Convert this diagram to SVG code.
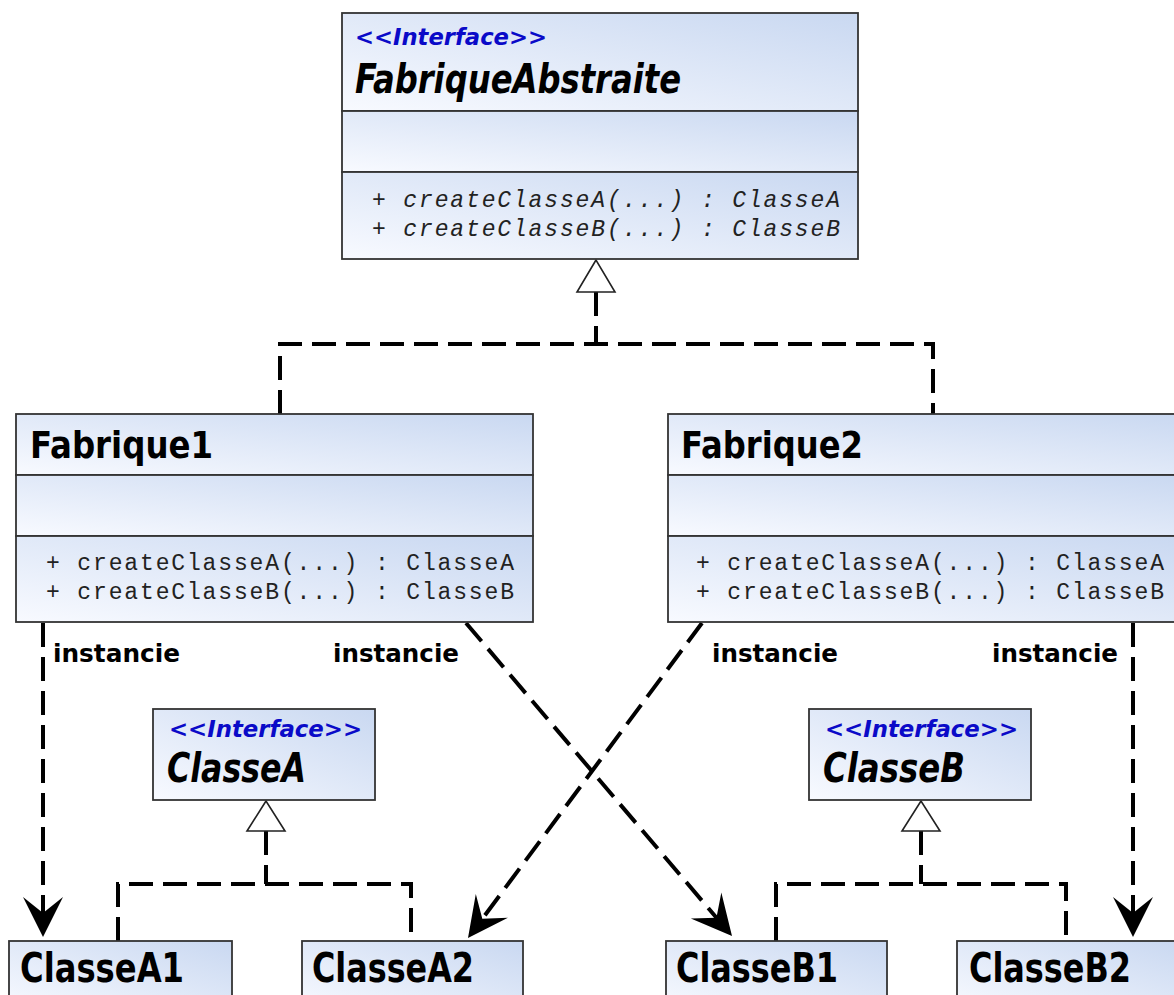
<svg xmlns="http://www.w3.org/2000/svg" width="1174" height="995" viewBox="0 0 1174 995">
<defs>
<linearGradient id="fill" x1="1" y1="0" x2="0" y2="1">
<stop offset="0" stop-color="#c9d8f1"/>
<stop offset="1" stop-color="#f8faff"/>
</linearGradient>
<marker id="arrow" markerUnits="userSpaceOnUse" viewBox="-42 -22 44 44" markerWidth="44" markerHeight="44" refX="-20" refY="0" orient="auto">
<path d="M0,0 L-40,-20 L-24,0 L-40,20 Z" fill="#000"/>
</marker>
<style>
.box{fill:url(#fill);stroke:#333;stroke-width:1.8}
.title{font-family:"DejaVu Sans Condensed","DejaVu Sans",sans-serif;font-weight:bold;fill:#000}
.abs{font-style:italic}
.stereo{font-family:"DejaVu Sans Condensed","DejaVu Sans",sans-serif;font-weight:bold;font-style:italic;font-size:23px;fill:#0a0ac8}
.meth{font-family:"Liberation Mono","DejaVu Sans Mono",monospace;font-size:23px;fill:#222}
.it{font-style:italic}
.lbl{font-family:"DejaVu Sans",sans-serif;font-weight:bold;font-size:24px;fill:#000}
.dash{fill:none;stroke:#000;stroke-width:4;stroke-dasharray:24 10}
.tri{fill:#fff;stroke:#222;stroke-width:1.6;stroke-linejoin:miter}
</style>
</defs>

<g id="connectors">
<path class="dash" d="M596,292 V344"/>
<path class="dash" d="M280,414 V344 H933 V414"/>
<polygon class="tri" points="596,260 577,292 615,292"/>
<path class="dash" d="M266,831 V884"/>
<path class="dash" d="M118,941 V884 H411 V941"/>
<polygon class="tri" points="266,801 247,831 285,831"/>
<path class="dash" d="M921,831 V884"/>
<path class="dash" d="M776,941 V884 H1066 V941"/>
<polygon class="tri" points="921,801 902,831 940,831"/>
<path class="dash" d="M43,623 V917" marker-end="url(#arrow)"/>
<path class="dash" d="M1133,623 V917" marker-end="url(#arrow)"/>
<path class="dash" d="M466,623 L719.05,920.76" marker-end="url(#arrow)"/>
<path class="dash" d="M702,623 L479.93,921.95" marker-end="url(#arrow)"/>
<text class="lbl" x="53" y="662" textLength="127" lengthAdjust="spacingAndGlyphs">instancie</text>
<text class="lbl" x="333" y="662" textLength="126" lengthAdjust="spacingAndGlyphs">instancie</text>
<text class="lbl" x="712" y="662" textLength="126" lengthAdjust="spacingAndGlyphs">instancie</text>
<text class="lbl" x="992" y="662" textLength="126" lengthAdjust="spacingAndGlyphs">instancie</text>
</g>

<g id="FabriqueAbstraite">
<rect class="box" x="342" y="13" width="516" height="98"/>
<rect class="box" x="342" y="111" width="516" height="61"/>
<rect class="box" x="342" y="172" width="516" height="87"/>
<text class="stereo" x="355" y="45" textLength="192" lengthAdjust="spacingAndGlyphs">&lt;&lt;Interface&gt;&gt;</text>
<text class="title abs" x="355" y="93" font-size="40" textLength="326" lengthAdjust="spacingAndGlyphs">FabriqueAbstraite</text>
<text class="meth it" x="372" y="207" textLength="468" lengthAdjust="spacing">+ createClasseA(...) : ClasseA</text>
<text class="meth it" x="372" y="236" textLength="468" lengthAdjust="spacing">+ createClasseB(...) : ClasseB</text>
</g>

<g id="Fabrique1">
<rect class="box" x="16" y="414" width="517" height="61"/>
<rect class="box" x="16" y="475" width="517" height="61"/>
<rect class="box" x="16" y="536" width="517" height="86"/>
<text class="title" x="30" y="458" font-size="38" textLength="183" lengthAdjust="spacingAndGlyphs">Fabrique1</text>
<text class="meth" x="46" y="570" textLength="468" lengthAdjust="spacing">+ createClasseA(...) : ClasseA</text>
<text class="meth" x="46" y="599" textLength="468" lengthAdjust="spacing">+ createClasseB(...) : ClasseB</text>
</g>

<g id="Fabrique2">
<rect class="box" x="668" y="414" width="517" height="61"/>
<rect class="box" x="668" y="475" width="517" height="61"/>
<rect class="box" x="668" y="536" width="517" height="86"/>
<text class="title" x="681" y="458" font-size="38" textLength="182" lengthAdjust="spacingAndGlyphs">Fabrique2</text>
<text class="meth" x="696" y="570" textLength="468" lengthAdjust="spacing">+ createClasseA(...) : ClasseA</text>
<text class="meth" x="696" y="599" textLength="468" lengthAdjust="spacing">+ createClasseB(...) : ClasseB</text>
</g>

<g id="ClasseA">
<rect class="box" x="153" y="709" width="222" height="91"/>
<text class="stereo" x="169" y="737" textLength="193" lengthAdjust="spacingAndGlyphs">&lt;&lt;Interface&gt;&gt;</text>
<text class="title abs" x="167" y="782" font-size="40" textLength="139" lengthAdjust="spacingAndGlyphs">ClasseA</text>
</g>

<g id="ClasseB">
<rect class="box" x="809" y="709" width="222" height="91"/>
<text class="stereo" x="825" y="737" textLength="193" lengthAdjust="spacingAndGlyphs">&lt;&lt;Interface&gt;&gt;</text>
<text class="title abs" x="823" y="782" font-size="40" textLength="142" lengthAdjust="spacingAndGlyphs">ClasseB</text>
</g>

<g id="ClasseA1">
<rect class="box" x="9" y="941" width="223" height="70"/>
<text class="title" x="20" y="982" font-size="40" textLength="164" lengthAdjust="spacingAndGlyphs">ClasseA1</text>
</g>

<g id="ClasseA2">
<rect class="box" x="302" y="941" width="221" height="70"/>
<text class="title" x="312" y="982" font-size="40" textLength="162" lengthAdjust="spacingAndGlyphs">ClasseA2</text>
</g>

<g id="ClasseB1">
<rect class="box" x="666" y="941" width="221" height="70"/>
<text class="title" x="676" y="982" font-size="40" textLength="162" lengthAdjust="spacingAndGlyphs">ClasseB1</text>
</g>

<g id="ClasseB2">
<rect class="box" x="957" y="941" width="222" height="70"/>
<text class="title" x="969" y="982" font-size="40" textLength="162" lengthAdjust="spacingAndGlyphs">ClasseB2</text>
</g>
</svg>
